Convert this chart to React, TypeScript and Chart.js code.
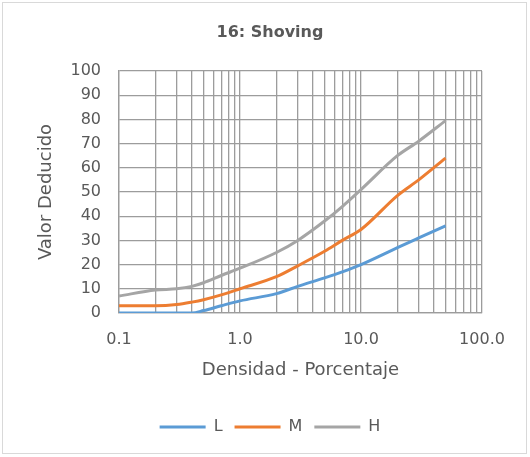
import React, { useEffect, useRef } from "react";
import { Chart, registerables } from "chart.js";

Chart.register(...registerables);

const densidad = [0.1, 0.2, 0.3, 0.4, 0.5, 0.7, 1, 2, 3, 5, 7, 10, 20, 30, 50];
const seriesL = [0, 0, 0, 0, 1, 3, 5, 8, 11, 14.5, 17, 20, 27, 31, 36];
const seriesM = [3, 3, 3.5, 4.5, 5.5, 7.5, 10, 15, 19.5, 25.5, 30, 34.5, 48.5, 55, 64];
const seriesH = [7, 9.5, 10, 11, 12.5, 15.5, 18.5, 25, 30, 38, 44, 51, 65, 71, 79.5];
const xTickValues = [
  0.1, 0.2, 0.3, 0.4, 0.5, 0.6, 0.7, 0.8, 0.9,
  1, 2, 3, 4, 5, 6, 7, 8, 9,
  10, 20, 30, 40, 50, 60, 70, 80, 90,
  100,
];
const xLabelValues = [0.1, 1, 10, 100];

const FONT = "'DejaVu Sans', sans-serif";
const TEXT = "#595959";
const GRID = "#9c9c9c";

export default function App() {
  const ref = useRef<HTMLCanvasElement>(null);
  useEffect(() => {
    if (!ref.current) return;
    const mk = (label: string, ys: number[], color: string) => ({
      label,
      data: densidad.map((x, i) => ({ x, y: ys[i] })),
      borderColor: color,
      backgroundColor: color,
      borderWidth: 3,
      pointRadius: 0,
      cubicInterpolationMode: "monotone" as const,
      fill: false,
    });
    const chart = new Chart(ref.current, {
      type: "line",
      data: {
        datasets: [
          mk("L", seriesL, "#5B9BD5"),
          mk("M", seriesM, "#ED7D31"),
          mk("H", seriesH, "#A5A5A5"),
        ],
      },
      options: {
        animation: false,
        responsive: false,
        maintainAspectRatio: false,
        layout: { padding: { top: 13, left: 10, right: 0, bottom: 12 } },
        plugins: {
          tooltip: { enabled: false },
          title: {
            display: true,
            text: "16: Shoving",
            color: TEXT,
            font: { family: FONT, size: 16, weight: "bold" },
            padding: { top: 10, bottom: 28.8 },
          },
          legend: {
            position: "bottom",
            labels: {
              usePointStyle: true,
              pointStyle: "line",
              pointStyleWidth: 46,
              color: TEXT,
              font: { family: FONT, size: 16 },
              padding: 12,
            },
          },
        },
        scales: {
          x: {
            type: "logarithmic",
            min: 0.1,
            max: 100,
            afterBuildTicks: (scale: any) => {
              scale.ticks = xTickValues.map((v) => ({ value: v }));
            },
            afterFit: (scale: any) => {
              scale.height = 94;
            },
            ticks: {
              autoSkip: false,
              maxRotation: 0,
              padding: 17,
              color: TEXT,
              font: { family: FONT, size: 16 },
              callback: (v: any) =>
                xLabelValues.includes(Number(v)) ? Number(v).toFixed(1) : "",
            },
            grid: { color: GRID, lineWidth: 1.3, drawTicks: false },
            border: { color: GRID, width: 1.3 },
            title: {
              display: true,
              text: "Densidad - Porcentaje",
              color: TEXT,
              font: { family: FONT, size: 18 },
              padding: { top: 0, bottom: 26 },
            },
          },
          y: {
            min: 0,
            max: 100,
            afterFit: (scale: any) => {
              scale.width = 109;
            },
            ticks: {
              stepSize: 10,
              padding: 18,
              color: TEXT,
              font: { family: FONT, size: 16 },
            },
            grid: { color: GRID, lineWidth: 1.3, drawTicks: false },
            border: { color: GRID, width: 1.3 },
            title: {
              display: true,
              text: "Valor Deducido",
              color: TEXT,
              font: { family: FONT, size: 18 },
              padding: { top: 26, bottom: 0 },
            },
          },
          yRight: {
            position: "right",
            display: true,
            min: 0,
            max: 100,
            afterFit: (scale: any) => {
              scale.width = 48;
            },
            ticks: { display: false },
            grid: { display: false, drawTicks: false },
            border: { display: false },
          },
        },
      },
    } as any);
    return () => chart.destroy();
  }, []);
  return (
    <div style={{ position: "fixed", left: 0, top: 0, width: 530, height: 457, background: "#fff" }}>
      <div
        style={{
          position: "absolute",
          left: 2,
          top: 2,
          width: 525,
          height: 452,
          border: "1px solid #d9d9d9",
          boxSizing: "border-box",
        }}
      />
      <canvas ref={ref} width={530} height={457} style={{ position: "absolute", left: 0, top: 0 }} />
    </div>
  );
}
